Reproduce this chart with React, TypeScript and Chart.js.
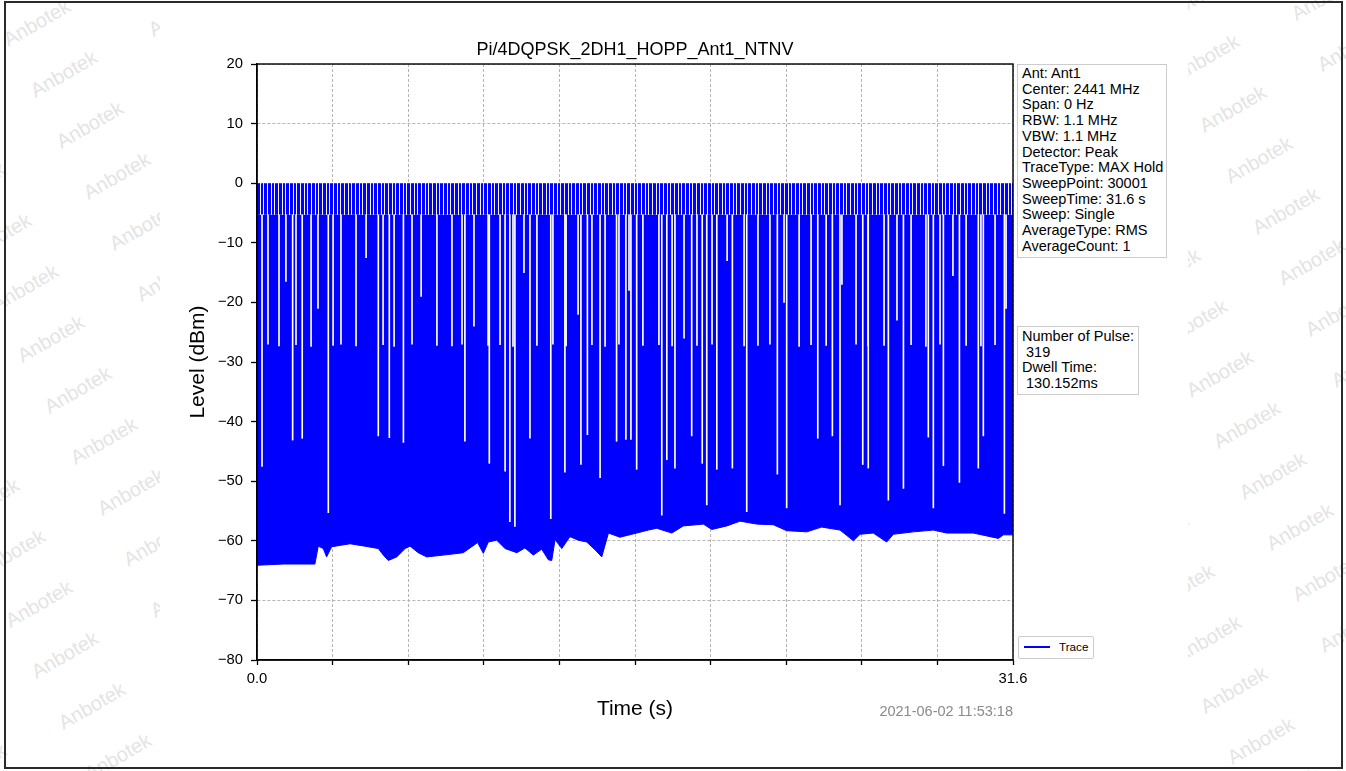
import React, { useEffect, useRef } from 'react';
import { Chart, registerables } from 'chart.js';

Chart.register(...registerables);

const FONT = '"Liberation Sans", Arial, Helvetica, sans-serif';

const chartTitle = 'Pi/4DQPSK_2DH1_HOPP_Ant1_NTNV';
const xAxisTitle = 'Time (s)';
const yAxisTitle = 'Level (dBm)';
const legendLabel = 'Trace';
const timestamp = '2021-06-02 11:53:18';

const xMin = 0;
const xMax = 31.6;
const xTickValues = [0, 3.16, 6.32, 9.48, 12.64, 15.8, 18.96, 22.12, 25.28, 28.44, 31.6];
const xTickLabels = ['0.0', '', '', '', '', '', '', '', '', '', '31.6'];
const yMin = -80;
const yMax = 20;
const yTickValues = [-80, -70, -60, -50, -40, -30, -20, -10, 0, 10, 20];
const yTickLabels = ['\u221280', '\u221270', '\u221260', '\u221250', '\u221240', '\u221230', '\u221220', '\u221210', '0', '10', '20'];

// lower envelope (noise floor) of the max-hold trace
const floorTimes = [
  0.0, 1.1, 2.42, 2.56, 2.77, 2.91, 3.12, 3.89, 4.51, 5.07, 5.28, 5.49, 5.84, 6.19, 6.4, 6.74, 7.09,
  7.79, 8.62, 9.22, 9.46, 9.67, 10.02, 10.37, 10.86, 11.2, 11.55, 11.9, 12.18, 12.32, 12.46, 12.74,
  13.08, 13.43, 13.78, 14.13, 14.41, 14.69, 15.17, 15.87, 16.36, 16.71, 17.34, 17.82, 18.66, 19.01,
  19.64, 20.19, 20.89, 21.58, 22.14, 22.98, 23.6, 24.37, 24.93, 25.21, 25.76, 26.32, 26.6, 27.43,
  28.27, 28.83, 29.94, 30.99, 31.2, 31.6,
];
const floorLevels = [
  -64.1, -63.9, -63.9, -60.9, -61.3, -62.7, -61.0, -60.5, -60.9, -61.3, -62.4, -63.3, -62.7, -61.3, -60.9, -62.0, -62.7,
  -62.4, -62.0, -60.3, -62.1, -60.2, -59.9, -61.3, -62.0, -61.2, -62.4, -61.4, -63.2, -63.3, -59.8, -61.3,
  -59.3, -59.9, -60.2, -61.5, -62.7, -58.7, -59.4, -58.7, -58.2, -57.9, -58.7, -57.5, -57.2, -58.1,
  -57.5, -56.7, -57.2, -57.3, -58.3, -58.5, -57.7, -58.2, -60.0, -58.9, -58.7, -60.2, -58.9, -58.5,
  -58.2, -58.7, -58.7, -59.6, -59.0, -59.0,
];
// level between pulses (top of the solid band) and pulse peak level
const bandTop = -5.3;
const pulsePeak = 0;

// white drop-outs inside the band: time and lowest level reached by the gap
const dropTimes = [
  0.46, 0.92, 1.21, 1.63, 2.26, 2.55, 3.18, 3.51, 4.14, 4.56, 5.27, 5.73, 6.48, 6.86, 7.52, 8.15, 8.57,
  9.07, 9.66, 10.16, 10.7, 11.16, 11.7, 12.37, 12.92, 13.42, 14.0, 14.55, 15.13, 15.55, 16.13, 16.8,
  17.35, 17.85, 18.39, 19.02, 19.65, 20.36, 20.94, 21.44, 22.03, 22.66, 23.16, 23.79, 24.45, 25.04,
  25.54, 26.21, 26.75, 27.34, 27.96, 28.55, 29.09, 29.64, 30.26, 30.85, 31.31,
  0.21, 1.49, 1.89, 2.98, 5.07, 5.53, 6.12, 8.69, 9.71, 10.37, 10.57, 10.78, 11.41, 12.28, 12.87,
  13.54, 13.81, 14.34, 15.03, 15.42, 15.63, 15.87, 16.92, 17.13, 17.47, 18.17, 18.61, 18.8, 19.22,
  19.87, 20.47, 21.75, 22.14, 23.44, 24.05, 24.37, 25.32, 25.55, 26.39, 27.02, 28.06, 28.27, 28.69,
  29.36, 30.15, 30.36, 31.24,
];
const dropLevels = [
  -27.0, -27.3, -16.5, -27.1, -27.4, -21.0, -27.2, -27.0, -27.3, -12.5, -27.1, -27.4, -27.0, -19.0, -27.2, -27.3, -27.0,
  -24.0, -27.2, -27.1, -27.4, -15.0, -27.2, -27.0, -27.3, -22.0, -27.1, -27.4, -27.0, -18.0, -27.2, -27.1,
  -27.3, -26.0, -27.2, -27.0, -13.0, -27.3, -27.2, -27.0, -20.0, -27.4, -27.1, -27.2, -17.0, -27.0,
  -27.3, -27.2, -23.0, -27.1, -27.4, -27.0, -15.5, -27.2, -27.3, -27.1, -21.0,
  -47.5, -43.1, -42.8, -55.3, -42.4, -42.7, -43.5, -43.3, -47.0, -48.3, -56.8, -57.6, -42.8, -56.3, -48.5,
  -47.2, -42.2, -49.4, -43.3, -43.0, -43.0, -48.0, -55.7, -46.4, -47.8, -42.4, -47.0, -54.0, -48.0,
  -47.8, -55.1, -48.8, -54.5, -42.8, -42.4, -54.0, -47.2, -47.8, -53.2, -51.2, -42.6, -54.5, -47.4,
  -50.2, -47.8, -42.4, -55.4,
];

const infoLines = [
  'Ant: Ant1',
  'Center: 2441 MHz',
  'Span: 0 Hz',
  'RBW: 1.1 MHz',
  'VBW: 1.1 MHz',
  'Detector: Peak',
  'TraceType: MAX Hold',
  'SweepPoint: 30001',
  'SweepTime: 31.6 s',
  'Sweep: Single',
  'AverageType: RMS',
  'AverageCount: 1',
];
const pulseLines = ['Number of Pulse:', ' 319', 'Dwell Time:', ' 130.152ms'];

const watermarkText = 'Anbotek';

function latticePoints(ax: number, ay: number, xmin: number, xmax: number) {
  const pts: [number, number][] = [];
  for (let i = -25; i <= 25; i++) {
    for (let j = -12; j <= 12; j++) {
      const x = ax + i * 26.5 + j * 145;
      const y = ay + i * 51 - j * 10;
      if (x > xmin - 70 && x < xmax + 70 && y > -40 && y < 811) pts.push([x, y]);
    }
  }
  return pts;
}

function Watermarks({ left, width, ax, ay }: { left: number; width: number; ax: number; ay: number }) {
  const pts = latticePoints(ax, ay, left, left + width);
  return (
    <div style={{ position: 'absolute', left, top: 0, width, height: 771, overflow: 'hidden' }}>
      {pts.map(([x, y], k) => (
        <div
          key={k}
          style={{
            position: 'absolute',
            left: x - left,
            top: y,
            transform: 'translate(-50%, -50%) rotate(-30deg)',
            font: `20px ${FONT}`,
            color: '#e4e4e4',
            whiteSpace: 'nowrap',
          }}
        >
          {watermarkText}
        </div>
      ))}
    </div>
  );
}

export default function App() {
  const ref = useRef<HTMLCanvasElement>(null);

  useEffect(() => {
    const canvas = ref.current;
    if (!canvas) return;

    const pc = document.createElement('canvas');
    pc.width = 11;
    pc.height = 1;
    const pg = pc.getContext('2d')!;
    pg.fillStyle = '#0000ff';
    pg.fillRect(0, 0, 11, 1);
    pg.fillStyle = '#f4f4ff';
    [3, 7, 10].forEach((x) => pg.fillRect(x, 0, 1, 1));
    const combPattern = pg.createPattern(pc, 'repeat')!;

    const framePlugin = {
      id: 'frame',
      afterDatasetsDraw(chart: any) {
        const { ctx, chartArea } = chart;
        ctx.save();
        ctx.strokeStyle = '#000';
        ctx.lineWidth = 1.4;
        ctx.strokeRect(chartArea.left, chartArea.top, chartArea.right - chartArea.left, chartArea.bottom - chartArea.top);
        ctx.restore();
      },
    };

    const chart = new Chart(canvas, {
      type: 'line',
      data: {
        datasets: [
          {
            type: 'bar',
            label: 'drops',
            data: dropTimes.map((t, i) => ({ x: t, y: [dropLevels[i], bandTop] })) as any,
            backgroundColor: '#ffffff',
            borderWidth: 0,
            barThickness: 1,
            order: 1,
          } as any,
          {
            type: 'line',
            label: 'pulses',
            data: [
              { x: xMin, y: pulsePeak },
              { x: xMax, y: pulsePeak },
            ],
            borderWidth: 0,
            borderColor: 'rgba(0,0,0,0)',
            pointRadius: 0,
            fill: { value: bandTop },
            backgroundColor: combPattern,
            order: 2,
          } as any,
          {
            type: 'line',
            label: legendLabel,
            data: floorTimes.map((t, i) => ({ x: t, y: floorLevels[i] })),
            borderColor: '#0000ff',
            borderWidth: 1,
            pointRadius: 0,
            tension: 0,
            fill: { value: bandTop },
            backgroundColor: '#0000ff',
            order: 3,
          } as any,
        ],
      },
      options: {
        animation: false,
        responsive: false,
        devicePixelRatio: 1,
        events: [],
        layout: { padding: { left: 0, right: 333, top: 0, bottom: 0 } },
        plugins: {
          legend: { display: false },
          tooltip: { enabled: false },
          title: {
            display: true,
            text: chartTitle,
            fullSize: false,
            color: '#000',
            font: { family: FONT, size: 18, weight: 'normal' },
            padding: { top: 39, bottom: 3.4 },
          },
        },
        scales: {
          x: {
            type: 'linear',
            min: xMin,
            max: xMax,
            offset: false,
            afterBuildTicks: (s: any) => {
              s.ticks = xTickValues.map((v) => ({ value: v }));
            },
            afterFit: (s: any) => {
              s.height = 111;
            },
            ticks: {
              autoSkip: false,
              maxRotation: 0,
              minRotation: 0,
              padding: 5,
              color: '#000',
              font: { family: FONT, size: 14.8 },
              callback: (_v: any, i: number) => xTickLabels[i],
            },
            grid: {
              offset: false,
              color: '#b4b4b4',
              lineWidth: 1,
              drawTicks: true,
              tickLength: 5,
              tickColor: '#000',
              tickWidth: 1.3,
              tickBorderDash: [],
            },
            border: { display: true, color: '#000', width: 1.4, dash: [3, 2] },
            title: {
              display: true,
              text: xAxisTitle,
              color: '#000',
              font: { family: FONT, size: 21 },
              padding: { top: 0, bottom: 49 },
            },
          },
          y: {
            type: 'linear',
            min: yMin,
            max: yMax,
            beginAtZero: false,
            afterBuildTicks: (s: any) => {
              s.ticks = yTickValues.map((v) => ({ value: v }));
            },
            afterFit: (s: any) => {
              s.width = 257;
            },
            ticks: {
              autoSkip: false,
              padding: 8,
              color: '#000',
              font: { family: FONT, size: 14.8 },
              callback: (_v: any, i: number) => yTickLabels[i],
            },
            grid: {
              offset: false,
              color: '#b4b4b4',
              lineWidth: 1,
              drawTicks: true,
              tickLength: 6,
              tickColor: '#000',
              tickWidth: 1.3,
              tickBorderDash: [],
            },
            border: { display: true, color: '#000', width: 1.4, dash: [3, 2] },
            title: {
              display: true,
              text: yAxisTitle,
              color: '#000',
              font: { family: FONT, size: 21 },
              padding: { top: 186, bottom: 0 },
            },
          },
        },
      } as any,
      plugins: [framePlugin],
    });

    return () => chart.destroy();
  }, []);

  const boxStyle: React.CSSProperties = {
    position: 'absolute',
    left: 1017,
    border: '1px solid #cccccc',
    background: '#ffffff',
    font: `14.5px ${FONT}`,
    lineHeight: '15.7px',
    color: '#000',
    whiteSpace: 'pre',
  };

  return (
    <div
      style={{
        position: 'absolute',
        left: 0,
        top: 0,
        width: 1346,
        height: 771,
        background: '#ffffff',
        overflow: 'hidden',
        fontFamily: FONT,
      }}
    >
      <Watermarks left={0} width={160} ax={37} ay={23} />
      <Watermarks left={1188} width={158} ax={1234} ay={690} />
      <canvas
        ref={ref}
        width={1346}
        height={771}
        style={{ position: 'absolute', left: 0, top: 0, width: 1346, height: 771 }}
      />
      <div style={{ ...boxStyle, top: 64, padding: '1px 3px 3px 4px' }}>
        {infoLines.map((l, i) => (
          <div key={i}>{l}</div>
        ))}
      </div>
      <div style={{ ...boxStyle, top: 326, padding: '2px 4px 2px 4px' }}>
        {pulseLines.map((l, i) => (
          <div key={i}>{l}</div>
        ))}
      </div>
      <div
        style={{
          position: 'absolute',
          left: 1018,
          top: 636,
          width: 76,
          height: 23,
          boxSizing: 'border-box',
          border: '1px solid #cccccc',
          borderRadius: 2,
          background: '#ffffff',
        }}
      >
        <div style={{ position: 'absolute', left: 5, top: 9, width: 26, height: 2, background: '#0000ff' }} />
        <div
          style={{
            position: 'absolute',
            left: 40,
            top: 3,
            font: `11.7px ${FONT}`,
            lineHeight: '14px',
            color: '#000',
          }}
        >
          {legendLabel}
        </div>
      </div>
      <div
        style={{
          position: 'absolute',
          right: 333,
          top: 703,
          font: `14.5px ${FONT}`,
          lineHeight: '17px',
          color: '#8a8a8a',
          whiteSpace: 'nowrap',
        }}
      >
        {timestamp}
      </div>
      <div
        style={{
          position: 'absolute',
          left: 4,
          top: 1,
          width: 1339,
          height: 768,
          boxSizing: 'border-box',
          border: '2px solid #2a2a2a',
          pointerEvents: 'none',
        }}
      />
    </div>
  );
}
